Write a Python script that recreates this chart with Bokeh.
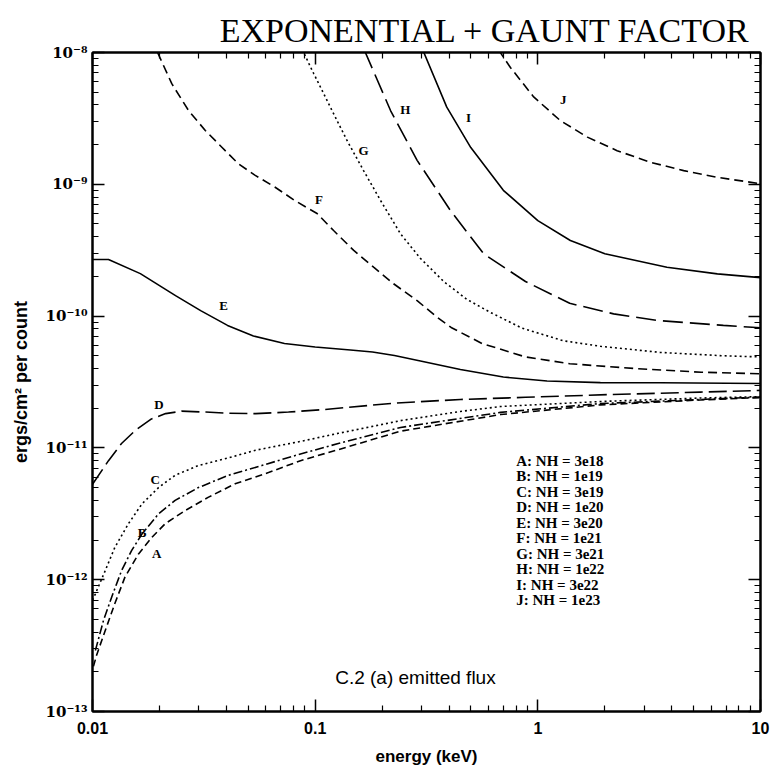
from bokeh.plotting import figure
from bokeh.models import LogAxis, FixedTicker, CustomJSTickFormatter, Range1d
from bokeh.core.properties import value
from bokeh.embed import file_html
from bokeh.resources import INLINE

# ---------------- data ----------------
title_text = "EXPONENTIAL + GAUNT FACTOR"
curve_ids = ["A", "B", "C", "D", "E", "F", "G", "H", "I", "J"]
nh_values = ["3e18", "1e19", "3e19", "1e20", "3e20", "1e21", "3e21", "1e22", "3e22", "1e23"]

energy_A = [0.0101, 0.01045, 0.0114, 0.0126, 0.0140, 0.0161, 0.0185, 0.0212, 0.0261, 0.0332, 0.0437, 0.0617, 0.0859, 0.127, 0.242, 0.68, 1.91, 5.37, 10]
flux_A = [2.2e-13, 2.7e-13, 4.1e-13, 6.6e-13, 1.05e-12, 1.57e-12, 2.1e-12, 2.66e-12, 3.35e-12, 4.23e-12, 5.34e-12, 6.5e-12, 8.0e-12, 9.7e-12, 1.34e-11, 1.79e-11, 2.12e-11, 2.31e-11, 2.41e-11]

energy_B = [0.0103, 0.0112, 0.0122, 0.0135, 0.0150, 0.0167, 0.0198, 0.0235, 0.0299, 0.0408, 0.0576, 0.0841, 0.127, 0.242, 0.68, 1.91, 5.37, 10]
flux_B = [2.9e-13, 4.9e-13, 7.4e-13, 1.17e-12, 1.67e-12, 2.23e-12, 3.16e-12, 4.0e-12, 5.0e-12, 6.2e-12, 7.35e-12, 8.9e-12, 1.08e-11, 1.43e-11, 1.86e-11, 2.17e-11, 2.33e-11, 2.43e-11]

energy_C = [0.01, 0.0103, 0.0114, 0.0126, 0.0145, 0.0167, 0.0198, 0.0235, 0.0299, 0.0408, 0.054, 0.086, 0.127, 0.242, 0.449, 0.68, 1.91, 5.37, 10]
flux_C = [7.0e-13, 7.8e-13, 1.17e-12, 1.76e-12, 2.66e-12, 3.77e-12, 5.0e-12, 6.2e-12, 7.35e-12, 8.4e-12, 9.6e-12, 1.12e-11, 1.29e-11, 1.61e-11, 1.89e-11, 2.06e-11, 2.25e-11, 2.39e-11, 2.45e-11]

energy_D = [0.01, 0.0118, 0.0135, 0.0156, 0.0184, 0.0213, 0.0251, 0.0322, 0.0408, 0.054, 0.0759, 0.108, 0.229, 0.449, 0.88, 2.12, 5.37, 10]
flux_D = [5.3e-12, 8.0e-12, 1.08e-11, 1.36e-11, 1.66e-11, 1.82e-11, 1.90e-11, 1.87e-11, 1.83e-11, 1.82e-11, 1.87e-11, 1.95e-11, 2.19e-11, 2.33e-11, 2.42e-11, 2.54e-11, 2.65e-11, 2.73e-11]

energy_E = [0.01, 0.0118, 0.0164, 0.0236, 0.0306, 0.0404, 0.0528, 0.0728, 0.100, 0.144, 0.181, 0.227, 0.297, 0.449, 0.70, 1.10, 1.91, 3.55, 10]
flux_E = [2.69e-10, 2.69e-10, 2.10e-10, 1.43e-10, 1.10e-10, 8.5e-11, 7.06e-11, 6.19e-11, 5.83e-11, 5.53e-11, 5.34e-11, 5.02e-11, 4.56e-11, 3.93e-11, 3.45e-11, 3.22e-11, 3.13e-11, 3.12e-11, 3.08e-11]

energy_F = [0.0196, 0.0227, 0.027, 0.0321, 0.0381, 0.0452, 0.0538, 0.0661, 0.0813, 0.102, 0.121, 0.149, 0.183, 0.225, 0.287, 0.353, 0.408, 0.561, 0.88, 1.39, 2.74, 5.42, 10]
flux_F = [1.0e-8, 5.8e-9, 3.63e-9, 2.56e-9, 1.91e-9, 1.43e-9, 1.17e-9, 9.5e-10, 7.5e-10, 6.0e-10, 4.46e-10, 3.15e-10, 2.35e-10, 1.76e-10, 1.31e-10, 9.8e-11, 8.2e-11, 6.2e-11, 4.9e-11, 4.35e-11, 4.0e-11, 3.75e-11, 3.65e-11]

energy_G = [0.0875, 0.0986, 0.117, 0.139, 0.165, 0.197, 0.242, 0.297, 0.378, 0.48, 0.61, 0.85, 1.3, 1.91, 3.55, 6.8, 10]
flux_G = [1.05e-8, 6.9e-9, 3.85e-9, 2.15e-9, 1.27e-9, 7.5e-10, 4.2e-10, 2.74e-10, 1.83e-10, 1.34e-10, 1.07e-10, 8.1e-11, 6.5e-11, 5.9e-11, 5.3e-11, 5.0e-11, 4.9e-11]

energy_H = [0.166, 0.218, 0.287, 0.405, 0.571, 0.88, 1.39, 2.19, 3.44, 6.81, 10]
flux_H = [1.05e-8, 3.63e-9, 1.52e-9, 6.33e-10, 2.97e-10, 1.83e-10, 1.25e-10, 1.04e-10, 9.26e-11, 8.5e-11, 8.15e-11]

energy_I = [0.304, 0.39, 0.50, 0.70, 1.0, 1.4, 2.0, 3.8, 6.4, 10]
flux_I = [1.05e-8, 3.85e-9, 1.9e-9, 9.0e-10, 5.3e-10, 3.75e-10, 2.97e-10, 2.35e-10, 2.09e-10, 1.96e-10]

energy_J = [0.665, 0.753, 0.958, 1.26, 1.67, 2.27, 3.2, 4.52, 6.39, 10]
flux_J = [1.05e-8, 7.7e-9, 4.6e-9, 3.05e-9, 2.28e-9, 1.8e-9, 1.47e-9, 1.27e-9, 1.13e-9, 1.01e-9]

x_ticks = [0.01, 0.1, 1, 10]
x_tick_labels = ["0.01", "0.1", "1", "10"]
y_ticks = [1e-13, 1e-12, 1e-11, 1e-10, 1e-9, 1e-8]
y_tick_labels = ["10\u207b\u00b9\u00b3", "10\u207b\u00b9\u00b2", "10\u207b\u00b9\u00b9",
                 "10\u207b\u00b9\u2070", "10\u207b\u2079", "10\u207b\u2078"]

# ---------------- styling / annotation positions ----------------
series = {
    "A": (energy_A, flux_A, "7 4", 1.6),
    "B": (energy_B, flux_B, "9 3 2 3", 1.6),
    "C": (energy_C, flux_C, "2 3", 1.6),
    "D": (energy_D, flux_D, "18 6", 1.6),
    "E": (energy_E, flux_E, "solid", 1.6),
    "F": (energy_F, flux_F, "9 5", 1.6),
    "G": (energy_G, flux_G, "2 3", 1.6),
    "H": (energy_H, flux_H, "20 7", 1.6),
    "I": (energy_I, flux_I, "solid", 1.6),
    "J": (energy_J, flux_J, "9 5", 1.6),
}
label_pos = {
    "A": (0.0194, 1.57e-12), "B": (0.0167, 2.29e-12), "C": (0.0191, 5.8e-12),
    "D": (0.0199, 2.13e-11), "E": (0.0388, 1.2e-10), "F": (0.104, 7.7e-10),
    "G": (0.165, 1.8e-9), "H": (0.254, 3.7e-9), "I": (0.488, 3.2e-9), "J": (1.30, 4.4e-9),
}

p = figure(width=775, height=770, x_axis_type="log", y_axis_type="log",
           x_range=Range1d(0.01, 10), y_range=Range1d(1e-13, 1e-8),
           output_backend="svg", toolbar_location=None,
           min_border_left=92, min_border_right=15, min_border_top=52, min_border_bottom=59)

p.background_fill_color = "white"
p.border_fill_color = "white"
p.outline_line_color = "black"
p.outline_line_width = 2
p.xgrid.visible = False
p.ygrid.visible = False

p.title.text = title_text
p.title.text_font = "Liberation Serif"
p.title.text_font_style = "normal"
p.title.text_font_size = "34px"
p.title.align = "right"
p.title.offset = 10
p.title.text_color = "black"
p.title.standoff = 7

x_minor = [m * t for t in x_ticks[:-1] for m in range(2, 10)]
y_minor = [m * t for t in y_ticks[:-1] for m in range(2, 10)]

fmt_code = """
let best = 0;
for (let i = 0; i < tvals.length; i++) {
  if (Math.abs(Math.log10(tvals[i]) - Math.log10(tick)) < Math.abs(Math.log10(tvals[best]) - Math.log10(tick))) best = i;
}
return tlabels[best];
"""
x_fmt = CustomJSTickFormatter(args=dict(tvals=x_ticks, tlabels=x_tick_labels), code=fmt_code)
y_fmt = CustomJSTickFormatter(args=dict(tvals=y_ticks, tlabels=y_tick_labels), code=fmt_code)
empty_fmt = CustomJSTickFormatter(code="return '';")


def style_axis(ax):
    ax.axis_line_width = 2
    ax.axis_line_color = "black"
    ax.major_tick_in = 12
    ax.major_tick_out = 0
    ax.minor_tick_in = 6
    ax.minor_tick_out = 0
    ax.major_tick_line_width = 1.5
    ax.minor_tick_line_width = 1.2
    ax.major_tick_line_color = "black"
    ax.minor_tick_line_color = "black"
    ax.major_label_text_color = "black"


xa = p.below[0]
ya = p.left[0]
xa.ticker = FixedTicker(ticks=x_ticks, minor_ticks=x_minor)
ya.ticker = FixedTicker(ticks=y_ticks, minor_ticks=y_minor)
xa.formatter = x_fmt
ya.formatter = y_fmt
style_axis(xa)
style_axis(ya)
xa.major_label_text_font = "Liberation Sans"
xa.major_label_text_font_style = "bold"
xa.major_label_text_font_size = "16px"
xa.major_label_standoff = 10
ya.major_label_text_font = "DejaVu Serif"
ya.major_label_text_font_style = "bold"
ya.major_label_text_font_size = "15px"
ya.major_label_standoff = 5

xa.axis_label = "energy (keV)"
xa.axis_label_text_font = "Liberation Sans"
xa.axis_label_text_font_style = "bold"
xa.axis_label_text_font_size = "17px"
xa.axis_label_standoff = 10
xa.axis_label_text_color = "black"

ya.axis_label = "ergs/cm\u00b2 per count"
ya.axis_label_text_font = "Liberation Sans"
ya.axis_label_text_font_style = "bold"
ya.axis_label_text_font_size = "18px"
ya.axis_label_standoff = 12
ya.axis_label_text_color = "black"

top_axis = LogAxis(ticker=FixedTicker(ticks=x_ticks, minor_ticks=x_minor), formatter=empty_fmt)
right_axis = LogAxis(ticker=FixedTicker(ticks=y_ticks, minor_ticks=y_minor), formatter=empty_fmt)
style_axis(top_axis)
style_axis(right_axis)
top_axis.major_label_standoff = 0
right_axis.major_label_standoff = 0
top_axis.major_label_text_font_size = "1px"
right_axis.major_label_text_font_size = "1px"
p.add_layout(top_axis, "above")
p.add_layout(right_axis, "right")

for cid in curve_ids:
    ex, fy, dash, lw = series[cid]
    p.line(ex, fy, line_color="black", line_width=lw, line_dash=dash)

p.text(x=[label_pos[c][0] for c in curve_ids], y=[label_pos[c][1] for c in curve_ids],
       text=curve_ids, text_font=value("Liberation Serif"), text_font_style="bold",
       text_font_size="13px", text_align="center", text_baseline="middle", text_color="black")

# legend block (text lines)
legend_x = 0.80
legend_y0 = 8.0e-12
legend_step = 0.763
legend_text = [f"{c}: NH = {v}" for c, v in zip(curve_ids, nh_values)]
legend_y = [legend_y0 * legend_step ** i for i in range(len(legend_text))]
p.text(x=[legend_x] * len(legend_text), y=legend_y, text=legend_text,
       text_font=value("Liberation Serif"), text_font_style="bold", text_font_size="15px",
       text_align="left", text_baseline="middle", text_color="black")

p.text(x=[0.123], y=[1.81e-13], text=["C.2 (a) emitted flux"],
       text_font=value("Liberation Sans"), text_font_size="19px",
       text_align="left", text_baseline="middle", text_color="black")

open("out.html", "w").write(file_html(p, INLINE))
